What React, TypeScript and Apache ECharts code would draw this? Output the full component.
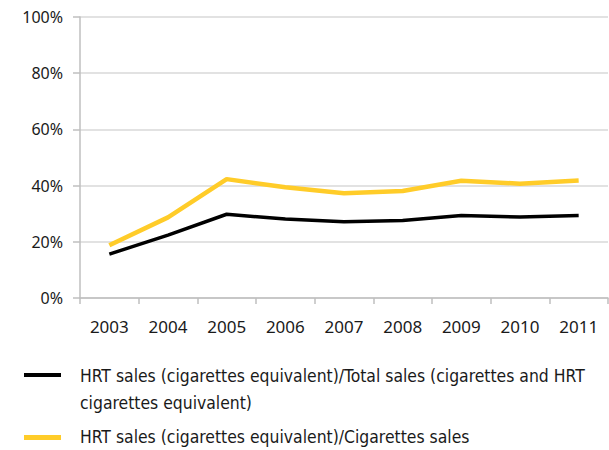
import React, { useEffect, useRef } from "react";
import * as echarts from "echarts";

const years = ["2003", "2004", "2005", "2006", "2007", "2008", "2009", "2010", "2011"];
const hrtTotalShare = [15.6, 22.4, 29.8, 28.1, 27.1, 27.6, 29.4, 28.8, 29.4];
const hrtCigShare = [18.8, 28.7, 42.3, 39.4, 37.3, 38.1, 41.7, 40.7, 41.8];
const seriesNames = [
  "HRT sales (cigarettes equivalent)/Total sales (cigarettes and HRT\ncigarettes equivalent)",
  "HRT sales (cigarettes equivalent)/Cigarettes sales",
];
const seriesColors = ["#000000", "#FFCC29"];

export default function App() {
  const ref = useRef<HTMLDivElement>(null);
  useEffect(() => {
    if (!ref.current) return;
    const chart = echarts.init(ref.current, null, { renderer: "svg" });
    const legendFont = "'DejaVu Sans Condensed', 'Liberation Sans Narrow', 'DejaVu Sans', sans-serif";
    chart.setOption({
      animation: false,
      grid: { left: 80, right: 1, top: 17, bottom: 152, containLabel: false },
      xAxis: {
        type: "category",
        data: years,
        boundaryGap: true,
        axisLine: { show: true, lineStyle: { color: "#BFBFBF", width: 1.5 } },
        axisTick: { show: true, length: 6, lineStyle: { color: "#BFBFBF", width: 1.5 } },
        axisLabel: { color: "#1a1a1a", fontSize: 17, margin: 20, fontFamily: "'Noto Sans', sans-serif" },
      },
      yAxis: {
        type: "value",
        min: 0,
        max: 100,
        interval: 20,
        axisLine: { show: true, lineStyle: { color: "#BFBFBF", width: 1.5 } },
        axisTick: { show: true, length: 7, lineStyle: { color: "#BFBFBF", width: 1.5 } },
        splitLine: { show: true, lineStyle: { color: "#D9D9D9", width: 1.5 } },
        axisLabel: {
          color: "#1a1a1a",
          fontSize: 16,
          margin: 17,
          fontFamily: "'Noto Sans', sans-serif",
          formatter: (v: number) => v + "%",
        },
      },
      series: [
        {
          name: seriesNames[0],
          type: "line",
          data: hrtTotalShare,
          showSymbol: false,
          symbol: "none",
          lineStyle: { color: seriesColors[0], width: 3.5 },
          z: 3,
        },
        {
          name: seriesNames[1],
          type: "line",
          data: hrtCigShare,
          showSymbol: false,
          symbol: "none",
          lineStyle: { color: seriesColors[1], width: 4.5 },
          z: 2,
        },
      ],
      graphic: [
        { type: "rect", left: 24, top: 373, shape: { width: 37, height: 4 }, style: { fill: seriesColors[0] } },
        {
          type: "text",
          left: 80,
          top: 362,
          style: {
            text: seriesNames[0],
            fontSize: 17.4,
            lineHeight: 27,
            fill: "#1a1a1a",
            fontFamily: legendFont,
          },
        },
        { type: "rect", left: 24, top: 435, shape: { width: 37, height: 5 }, style: { fill: seriesColors[1] } },
        {
          type: "text",
          left: 80,
          top: 423,
          style: {
            text: seriesNames[1],
            fontSize: 17.4,
            lineHeight: 27,
            fill: "#1a1a1a",
            fontFamily: legendFont,
          },
        },
      ],
    });
    return () => chart.dispose();
  }, []);
  return <div ref={ref} style={{ width: 609, height: 450, position: "absolute", left: 0, top: 0 }} />;
}
